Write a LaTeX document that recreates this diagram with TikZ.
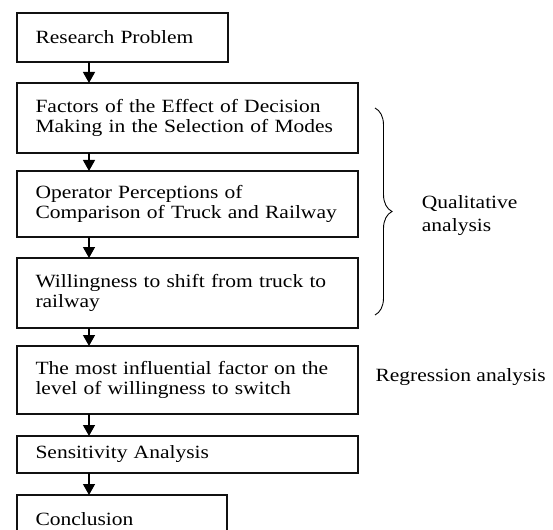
\documentclass[tikz,border=0pt]{standalone}
\usepackage{fontspec}
\setmainfont{Liberation Serif}[FakeStretch=1.15]
\usetikzlibrary{positioning,arrows.meta,calc,decorations.pathreplacing}
\definecolor{boxline}{HTML}{111111}
\def\arrowx{72pt}
\newcommand{\flowarrow}[2]{
  \draw[flow] ([xshift=\arrowx]#1.south west) -- ([xshift=\arrowx]#2.north west);
}

\begin{document}
\begin{tikzpicture}[
    stage/.style={draw=boxline, line width=1.3pt, align=left, inner xsep=18.5pt,
      inner ysep=0pt, outer sep=0pt, text width=#1,
      font=\fontsize{18.7pt}{20pt}\selectfont},
    flow/.style={line width=1.3pt, -{Triangle[width=12pt,length=11pt]}},
    side/.style={align=left, font=\fontsize{18.7pt}{20pt}\selectfont},
  ]
    \useasboundingbox (0,0) rectangle (553pt,-529pt);
    \node[stage=174pt, minimum height=49pt, anchor=north west] (prob) at (17pt,-13pt)
      {Research Problem};
    \node[stage=304pt, minimum height=70pt, below=21pt of prob.south west, anchor=north west] (fac)
      {Factors of the Effect of Decision\\Making in the Selection of Modes};
    \node[stage=304pt, minimum height=66pt, below=18pt of fac.south west, anchor=north west] (oper)
      {Operator Perceptions of\\Comparison of Truck and Railway};
    \node[stage=304pt, minimum height=70pt, below=21pt of oper.south west, anchor=north west] (will)
      {Willingness to shift from truck to\\railway};
    \node[stage=304pt, minimum height=68pt, below=18pt of will.south west, anchor=north west] (infl)
      {The most influential factor on the\\level of willingness to switch};
    \node[stage=304pt, minimum height=37pt, below=22pt of infl.south west, anchor=north west] (sens)
      {Sensitivity Analysis};
    \node[stage=173pt, minimum height=49pt, below=22pt of sens.south west, anchor=north west] (conc)
      {Conclusion};

    \flowarrow{prob}{fac}
    \flowarrow{fac}{oper}
    \flowarrow{oper}{will}
    \flowarrow{will}{infl}
    \flowarrow{infl}{sens}
    \flowarrow{sens}{conc}

    \draw[line width=0.9pt, decorate, decoration={brace, amplitude=17pt}]
      ([xshift=17pt,yshift=-25pt]fac.north east) coordinate (btop)
      -- ([xshift=17pt,yshift=13pt]will.south east) coordinate (bbot);
    \node[side, anchor=west] (qual) at ([xshift=43.4pt,yshift=-4pt]$(btop)!0.5!(bbot)$)
      {Qualitative\\[2.7pt]analysis};
    \node[side, anchor=west] (regr) at ([xshift=14pt,yshift=3pt]infl.east)
      {Regression analysis};
\end{tikzpicture}
\end{document}
